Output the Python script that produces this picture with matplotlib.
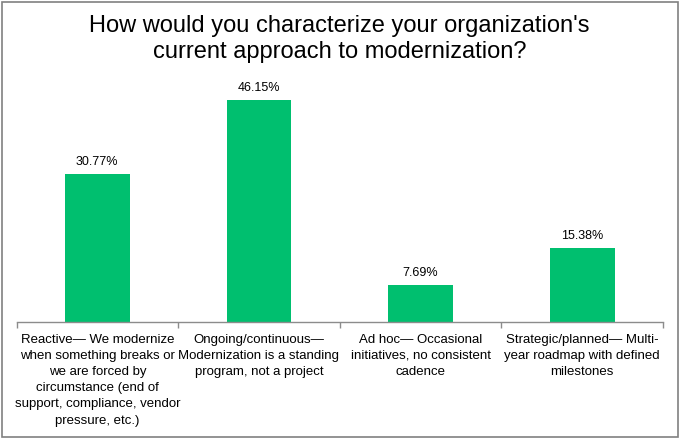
import matplotlib.pyplot as plt
from matplotlib.patches import Rectangle

# survey answers
categories = [
    "Reactive\u2014 We modernize\nwhen something breaks or\nwe are forced by\ncircumstance (end of\nsupport, compliance, vendor\npressure, etc.)",
    "Ongoing/continuous\u2014\nModernization is a standing\nprogram, not a project",
    "Ad hoc\u2014 Occasional\ninitiatives, no consistent\ncadence",
    "Strategic/planned\u2014 Multi-\nyear roadmap with defined\nmilestones",
]
percent = [30.77, 46.15, 7.69, 15.38]
value_labels = ["30.77%", "46.15%", "7.69%", "15.38%"]

plt.rcParams['font.family'] = ['Liberation Sans', 'DejaVu Sans']

fig = plt.figure(figsize=(6.79, 4.38), dpi=100)
ax = fig.add_axes([16.5 / 679, 116 / 438, 646.5 / 679, 262 / 438])

x = list(range(len(categories)))
bars = ax.bar(x, percent, width=0.40, color="#00BF6F")
ax.bar_label(bars, labels=value_labels, padding=4.6, fontsize=9)

ax.set_xlim(-0.5, 3.5)
ax.set_ylim(0, 54.47)
ax.set_yticks([])
ax.set_xticks(x)
ax.set_xticklabels(categories, fontsize=9.5)
for t in ax.get_xticklabels():
    t.set_linespacing(1.46)
    t.set_multialignment("center")
ax.set_xticks([-0.5, 0.5, 1.5, 2.5, 3.5], minor=True)
ax.tick_params(axis="x", which="major", length=0, pad=8.5)
ax.tick_params(axis="x", which="minor", length=4.3, width=1, color="#8c8c8c")

for s in ["top", "left", "right"]:
    ax.spines[s].set_visible(False)
ax.spines["bottom"].set_color("#8c8c8c")
ax.spines["bottom"].set_linewidth(1)

fig.text(0.5, 0.966, "How would you characterize your organization's\ncurrent approach to modernization?",
         ha="center", va="top", fontsize=17, linespacing=1.22)

# frame around the whole chart
fig.patches.append(Rectangle((1.5 / 679, 1.5 / 438), 676 / 679, 435 / 438, transform=fig.transFigure,
                             fill=False, edgecolor="#808080", linewidth=1.2))

fig.savefig("out.png", dpi=100)
